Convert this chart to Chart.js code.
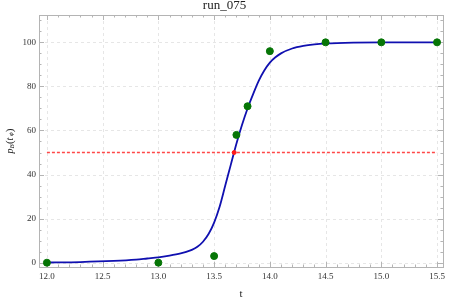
<!DOCTYPE html>
<html>
<head>
<meta charset="utf-8">
<script src="https://cdn.jsdelivr.net/npm/chart.js@4/dist/chart.umd.min.js"></script>
<style>
  html, body { margin: 0; padding: 0; background: #fff; }
  #wrap { width: 449px; height: 302px; }
</style>
</head>
<body>
<div id="wrap"><canvas id="c" width="449" height="302"></canvas></div>
<script>
// measured points
var obsT = [12.0, 13.0, 13.5, 13.7, 13.8, 14.0, 14.5, 15.0, 15.5];
var obsP = [0, 0, 3, 58, 71, 96, 100, 100, 100];

// fitted curve
var curveT = [12.0, 12.3, 12.6, 12.8, 12.9, 13.0, 13.1, 13.2, 13.25, 13.3, 13.35, 13.4, 13.45, 13.5, 13.55,
              13.6, 13.65, 13.7, 13.75, 13.8, 13.85, 13.9, 13.95, 14.0, 14.05, 14.1, 14.2, 14.3, 14.4, 14.5,
              14.75, 15.0, 15.5];
var curveP = [0.1, 0.3, 0.8, 1.4, 1.9, 2.4, 3.2, 4.2, 4.9, 5.8, 7.2, 9.5, 13.0, 18.2, 25.5,
              35, 44.5, 54, 62.5, 70, 76.5, 82.5, 87.2, 90.8, 93.2, 95, 97.2, 98.4, 99.1, 99.5,
              99.9, 100, 100];

// 50% threshold
var halfT = [12.0, 15.5];
var halfP = [50, 50];
var crossT = 13.68, crossP = 50;

var xTicks = [12.0, 12.5, 13.0, 13.5, 14.0, 14.5, 15.0, 15.5];
var yTicks = [0, 20, 40, 60, 80, 100];

var serif = "'Liberation Serif', 'DejaVu Serif', serif";

function pts(xs, ys) {
  return xs.map(function (x, i) { return { x: x, y: ys[i] }; });
}

// frame, ticks, dashed grid, titles (Mathematica-like look)
var framePlugin = {
  id: 'frame',
  beforeDatasetsDraw: function (chart) {
    var ctx = chart.ctx, a = chart.chartArea;
    var xs = chart.scales.x, ys = chart.scales.y;
    ctx.save();
    ctx.strokeStyle = '#e6e6e6';
    ctx.lineWidth = 1;
    ctx.setLineDash([3, 3]);
    xTicks.forEach(function (v) {
      var px = Math.round(xs.getPixelForValue(v)) + 0.5;
      ctx.beginPath(); ctx.moveTo(px, a.top); ctx.lineTo(px, a.bottom); ctx.stroke();
    });
    yTicks.forEach(function (v) {
      var py = Math.round(ys.getPixelForValue(v)) + 0.5;
      ctx.beginPath(); ctx.moveTo(a.left, py); ctx.lineTo(a.right, py); ctx.stroke();
    });
    ctx.setLineDash([]);

    ctx.strokeStyle = '#b4b4b4';
    ctx.lineWidth = 1;
    ctx.strokeRect(Math.round(a.left) + 0.5, Math.round(a.top) + 0.5,
      Math.round(a.right - a.left), Math.round(a.bottom - a.top));

    // x ticks, every 0.1, major every 0.5
    for (var i = 119; i <= 155; i++) {
      var v = i / 10;
      var px = Math.round(xs.getPixelForValue(v)) + 0.5;
      if (px < a.left || px > a.right) continue;
      var len = (i % 5 === 0) ? 5 : 2.5;
      ctx.beginPath();
      ctx.moveTo(px, a.bottom); ctx.lineTo(px, a.bottom - len);
      ctx.moveTo(px, a.top); ctx.lineTo(px, a.top + len);
      ctx.stroke();
    }
    // y ticks, every 5, major every 20
    for (var j = 0; j <= 110; j += 5) {
      var py = Math.round(ys.getPixelForValue(j)) + 0.5;
      var ln = (j % 20 === 0) ? 5 : 2.5;
      ctx.beginPath();
      ctx.moveTo(a.left, py); ctx.lineTo(a.left + ln, py);
      ctx.moveTo(a.right, py); ctx.lineTo(a.right - ln, py);
      ctx.stroke();
    }
    ctx.restore();
  },
  afterDraw: function (chart) {
    var ctx = chart.ctx, a = chart.chartArea;
    ctx.save();
    ctx.fillStyle = '#222';
    ctx.textAlign = 'center';
    ctx.textBaseline = 'middle';
    ctx.font = '13px ' + serif;
    ctx.fillText('run_075', chart.width / 2, 6);

    ctx.font = '11px ' + serif;
    ctx.fillText('t', (a.left + a.right) / 2, 294);

    // y title p_B(t_ϕ), rotated
    ctx.translate(10, (a.top + a.bottom) / 2);
    ctx.rotate(-Math.PI / 2);
    var parts = [
      { t: 'p', f: 'italic 10px ' + serif, dy: 0 },
      { t: 'B', f: 'italic 7px ' + serif, dy: 2 },
      { t: '(', f: '11px ' + serif, dy: 0 },
      { t: 't', f: 'italic 10px ' + serif, dy: 0 },
      { t: ' \u03d5', f: 'italic 7px ' + serif, dy: 1 },
      { t: ')', f: '11px ' + serif, dy: 0 }
    ];
    var w = 0;
    parts.forEach(function (p) { ctx.font = p.f; p.w = ctx.measureText(p.t).width; w += p.w; });
    var x = -w / 2;
    ctx.textAlign = 'left';
    parts.forEach(function (p) { ctx.font = p.f; ctx.fillText(p.t, x, p.dy); x += p.w; });
    ctx.restore();
  }
};

new Chart(document.getElementById('c'), {
  type: 'scatter',
  data: {
    datasets: [
      {
        data: pts(obsT, obsP),
        backgroundColor: '#067506',
        borderColor: '#067506',
        pointRadius: 3.5,
        showLine: false,
        order: 0
      },
      {
        data: [{ x: crossT, y: crossP }],
        backgroundColor: '#ff1a1a',
        borderColor: '#ff1a1a',
        pointRadius: 2,
        showLine: false,
        order: 0
      },
      {
        type: 'line',
        data: pts(curveT, curveP),
        borderColor: '#1010b0',
        borderWidth: 1.8,
        pointRadius: 0,
        cubicInterpolationMode: 'monotone',
        fill: false,
        order: 1
      },
      {
        type: 'line',
        data: pts(halfT, halfP),
        borderColor: 'rgba(255,40,40,0.85)',
        borderWidth: 1.3,
        borderDash: [3, 2],
        pointRadius: 0,
        fill: false,
        order: 2
      }
    ]
  },
  options: {
    responsive: false,
    animation: false,
    events: [],
    layout: { padding: { top: 15, right: 3, left: 0, bottom: 0 } },
    plugins: {
      legend: { display: false },
      title: { display: false },
      tooltip: { enabled: false }
    },
    scales: {
      x: {
        type: 'linear',
        min: 11.929,
        max: 15.553,
        afterBuildTicks: function (s) { s.ticks = xTicks.map(function (v) { return { value: v }; }); },
        afterFit: function (s) { s.height = 35; },
        grid: { display: false, drawTicks: false },
        border: { display: false },
        ticks: {
          padding: 4,
          color: '#333',
          font: { family: serif, size: 9 },
          callback: function (v) { return Number(v).toFixed(1); }
        }
      },
      y: {
        type: 'linear',
        min: -1.95,
        max: 112.4,
        afterBuildTicks: function (s) { s.ticks = yTicks.map(function (v) { return { value: v }; }); },
        afterFit: function (s) { s.width = 39; },
        grid: { display: false, drawTicks: false },
        border: { display: false },
        ticks: {
          padding: 3,
          color: '#333',
          font: { family: serif, size: 9 }
        }
      }
    }
  },
  plugins: [framePlugin]
});
</script>
</body>
</html>
